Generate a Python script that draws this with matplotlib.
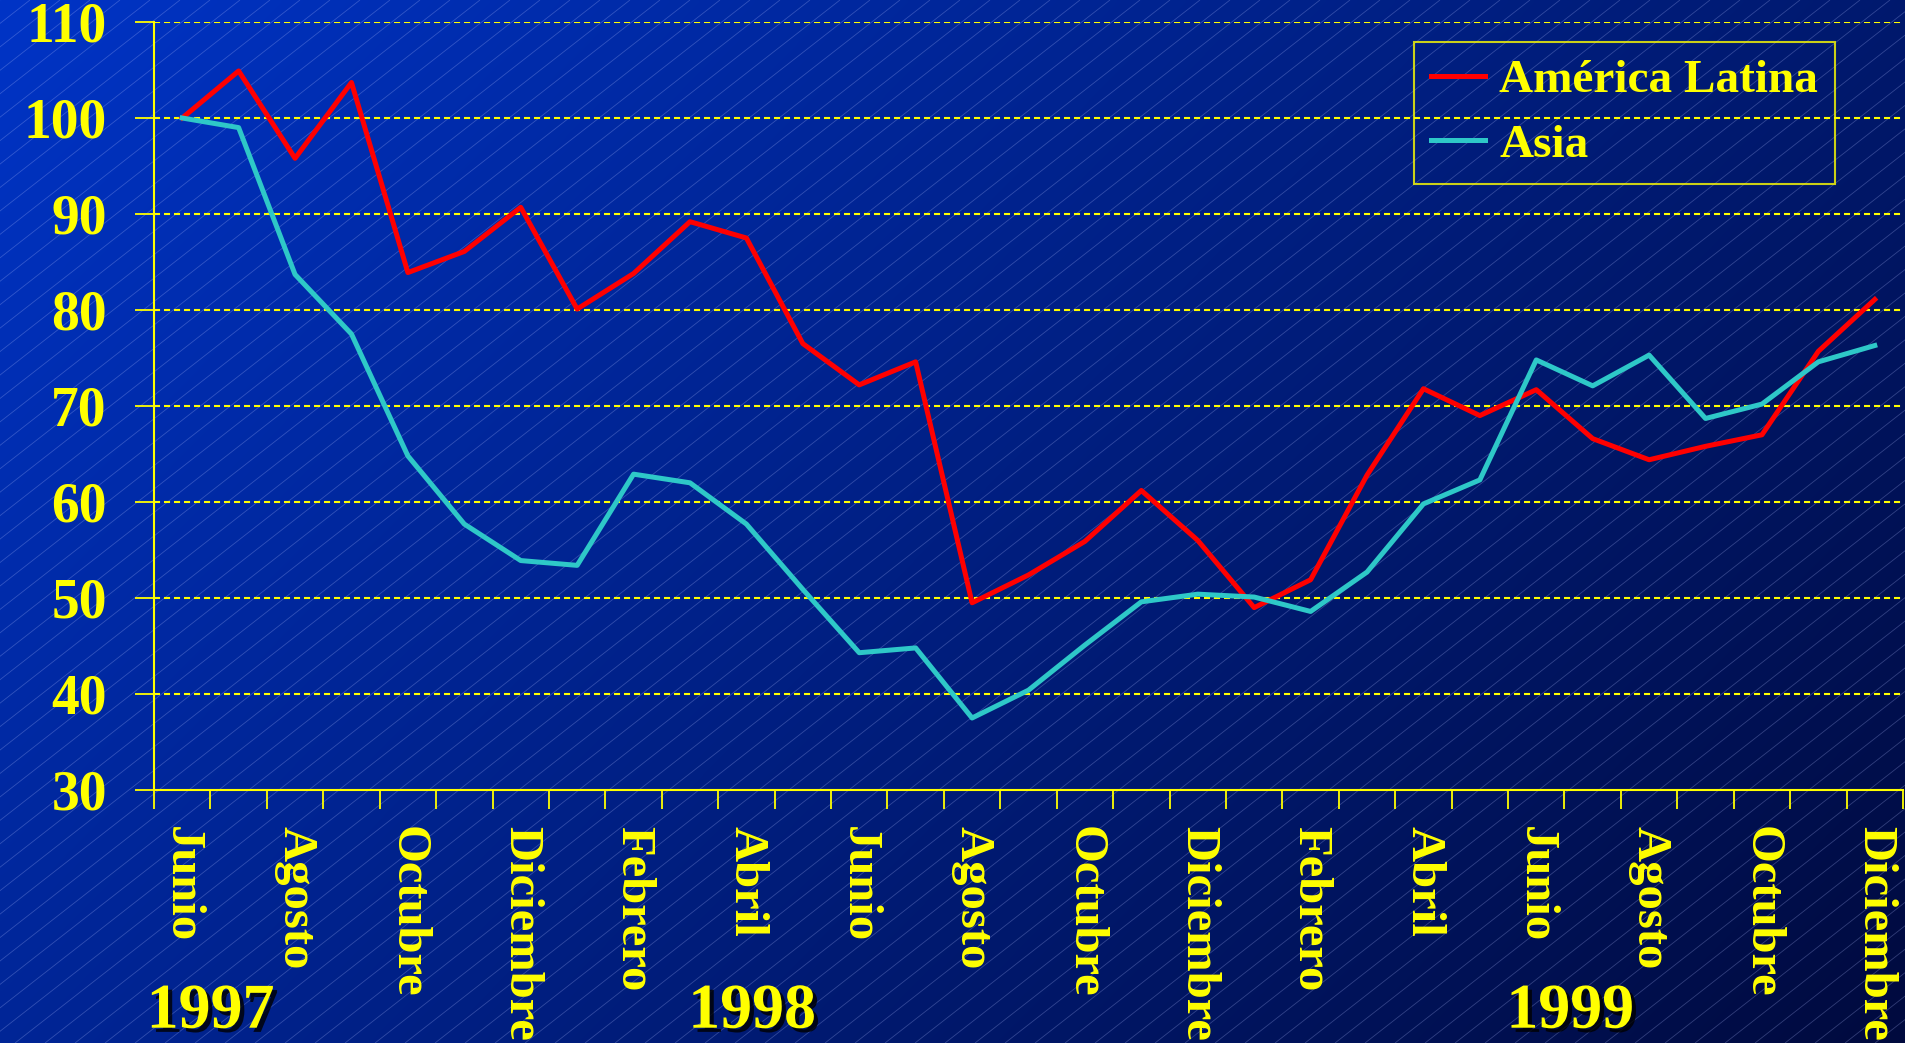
import numpy as np
import matplotlib.pyplot as plt
import matplotlib.patheffects as pe
from matplotlib.collections import LineCollection

# ---- datos ----
meses = ['Junio', 'Agosto', 'Octubre', 'Diciembre', 'Febrero', 'Abril',
         'Junio', 'Agosto', 'Octubre', 'Diciembre', 'Febrero', 'Abril',
         'Junio', 'Agosto', 'Octubre', 'Diciembre']
anios = ['1997', '1998', '1999']
pos_anios = [0.5, 10.1, 24.6]

america_latina = [100.0, 104.9, 95.8, 103.7, 83.9, 86.1, 90.7, 80.1, 83.8, 89.2,
                  87.5, 76.5, 72.2, 74.6, 49.5, 52.4, 55.9, 61.2, 56.0, 49.0,
                  51.9, 62.8, 71.8, 69.0, 71.7, 66.6, 64.4, 65.8, 67.0, 75.7, 81.1]
asia = [100.0, 99.0, 83.7, 77.5, 64.8, 57.7, 53.9, 53.4, 62.9, 62.0,
        57.7, 50.9, 44.3, 44.8, 37.5, 40.4, 45.1, 49.6, 50.4, 50.1,
        48.6, 52.7, 59.8, 62.3, 74.8, 72.1, 75.3, 68.7, 70.2, 74.6, 76.3]

amarillo = '#FFFF00'
fuente = 'Liberation Serif'
W, H = 1906, 1043

fig = plt.figure(figsize=(W / 100, H / 100), dpi=100)

# ---- fondo degradado con rayado ----
fondo = fig.add_axes([0, 0, 1, 1])
fondo.set_axis_off()
xx, yy = np.meshgrid(np.linspace(0, 1, 400), np.linspace(0, 1, 220))
t = (xx * 0.65 + yy * 0.35)
c0 = np.array([0x00, 0x34, 0xC6]) / 255
c1 = np.array([0x00, 0x0A, 0x3E]) / 255
img = c0[None, None, :] * (1 - t[..., None]) + c1[None, None, :] * t[..., None]
fondo.imshow(img, extent=[0, W, H, 0], aspect='auto', interpolation='bilinear')
fondo.set_xlim(0, W)
fondo.set_ylim(H, 0)
ang = np.tan(np.radians(38))
segs = []
for c in np.arange(-H / ang, W + 30, 30):
    segs.append([(c, H), (c + H / ang, 0)])
fondo.add_collection(LineCollection(segs, colors=[(0.7, 0.75, 1.0, 0.28)], linewidths=0.6))

# ---- grafico ----
ax = fig.add_axes([154 / W, 1 - 790 / H, (1903 - 154) / W, (790 - 22) / H])
ax.patch.set_alpha(0)
x = np.arange(len(america_latina))
ax.plot(x, america_latina, color='#FF0000', lw=3.6, label='América Latina', zorder=3)
ax.plot(x, asia, color='#2EC8C8', lw=3.6, label='Asia', zorder=3)

ax.set_xlim(-0.5, 30.5)
ax.set_ylim(30, 110)
ax.set_yticks(range(30, 111, 10))
for v in range(40, 111, 10):
    ax.axhline(v, color=amarillo, lw=1.5, ls=(0, (2.9, 1.9)), zorder=1)

ax.set_xticks(np.arange(-0.5, 31, 1))
ax.set_xticklabels([])
ax.set_xticks(np.arange(0, 31, 2), minor=True)
ax.set_xticklabels(meses, minor=True, rotation=-90, va='top', ha='center',
                   fontsize=35, fontweight='bold', color=amarillo, family=fuente)
ax.tick_params(axis='x', which='major', length=14, width=1.3, color=amarillo, direction='out')
ax.tick_params(axis='x', which='minor', length=0, pad=26)
ax.tick_params(axis='y', length=14, width=1.3, color=amarillo, pad=20)
for lab in ax.get_yticklabels():
    lab.set_fontsize(40)
    lab.set_fontweight('bold')
    lab.set_color(amarillo)
    lab.set_family(fuente)

for s in ['top', 'right']:
    ax.spines[s].set_visible(False)
for s in ['left', 'bottom']:
    ax.spines[s].set_color(amarillo)
    ax.spines[s].set_linewidth(1.5)

for a, p in zip(anios, pos_anios):
    ax.text(p, -0.29, a, transform=ax.get_xaxis_transform(), ha='center', va='center',
            fontsize=46, fontweight='bold', color=amarillo, family=fuente,
            path_effects=[pe.SimplePatchShadow(offset=(3, -3), shadow_rgbFace='black', alpha=0.8),
                          pe.Normal()])

leg = ax.legend(loc='upper right', bbox_to_anchor=(1835 / W, 1 - 42 / H),
                bbox_transform=fig.transFigure, borderaxespad=0, frameon=True,
                prop={'family': fuente, 'weight': 'bold', 'size': 34},
                handlelength=1.15, handletextpad=0.3, labelspacing=0.46,
                borderpad=0.36, fancybox=False)
leg.get_frame().set_facecolor('none')
leg.get_frame().set_edgecolor(amarillo)
leg.get_frame().set_linewidth(1.5)
for txt in leg.get_texts():
    txt.set_color(amarillo)

fig.savefig('out.png', dpi=100)
